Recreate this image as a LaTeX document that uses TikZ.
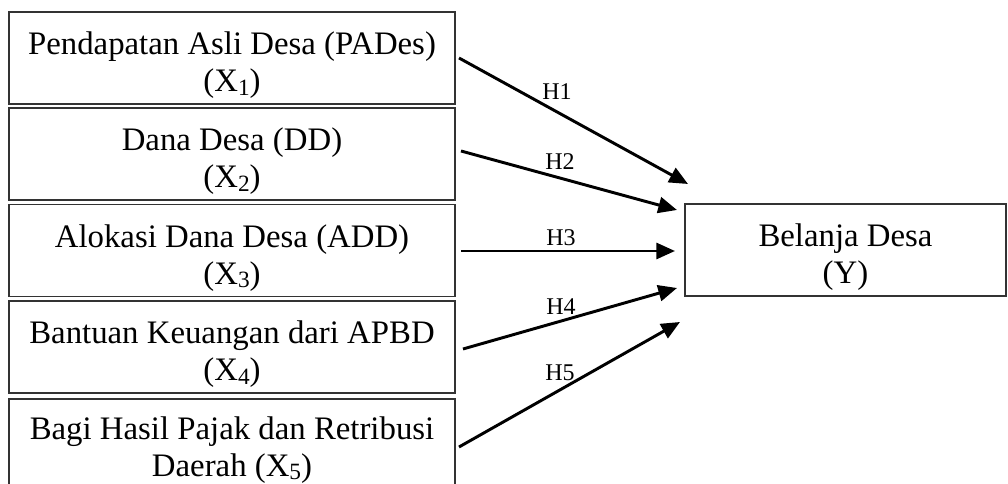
\documentclass[tikz,border=0pt]{standalone}
\usepackage{fontspec}
\setmainfont{Liberation Serif}
\usetikzlibrary{arrows.meta}
\newcommand{\topstrut}{\rule{0pt}{1.15em}}
\newcommand{\lowsub}[1]{\raisebox{-0.1em}{\fontsize{17.5pt}{18pt}\selectfont #1}}
\begin{document}
\begin{tikzpicture}[x=0.75pt,y=-0.75pt,
  varbox/.style={draw=black!80, line width=1.3pt, minimum width=446*0.75pt, minimum height=92*0.75pt,
    align=center, inner sep=0pt, font=\fontsize{24.6pt}{27.6pt}\selectfont},
  arr/.style={line width=2.2pt, -{Triangle[length=14pt,width=12pt]}},
  hlab/.style={font=\fontsize{18pt}{21pt}\selectfont, inner sep=0pt}]
\useasboundingbox (0,0) rectangle (1008,484);
\node[varbox] (b1) at (232,58) {\topstrut Pendapatan Asli Desa (PADes)\\(X\lowsub{1})};
\node[varbox] (b2) at (232,154) {\topstrut Dana Desa (DD)\\(X\lowsub{2})};
\node[varbox] (b3) at (232,250.5) {\topstrut Alokasi Dana Desa (ADD)\\(X\lowsub{3})};
\node[varbox] (b4) at (232,347) {\topstrut Bantuan Keuangan dari APBD\\(X\lowsub{4})};
\node[varbox] (b5) at (232,445) {\rule{0pt}{1.02em}Bagi Hasil Pajak dan Retribusi\\Daerah (X\lowsub{5})};
\node[varbox, minimum width=321*0.75pt] (y) at (845.5,250) {\topstrut Belanja Desa\\(Y)};
\coordinate (s1) at (459,58);
\coordinate (s2) at (461,151);
\coordinate (s3) at (461,251);
\coordinate (s4) at (463,349);
\coordinate (s5) at (459,447);
\coordinate (t1) at (688,184);
\coordinate (t2) at (677,210);
\coordinate (t3) at (675,251);
\coordinate (t4) at (677,288);
\coordinate (t5) at (680,322);
\draw[arr] (s1) -- (t1);
\draw[arr] (s2) -- (t2);
\draw[arr] (s3) -- (t3);
\draw[arr] (s4) -- (t4);
\draw[arr] (s5) -- (t5);
\node[hlab] (h1) at (557,92) {H1};
\node[hlab] (h2) at (560,162) {H2};
\node[hlab] (h3) at (561,238) {H3};
\node[hlab] (h4) at (561,307) {H4};
\node[hlab] (h5) at (560,373) {H5};
\end{tikzpicture}
\end{document}
